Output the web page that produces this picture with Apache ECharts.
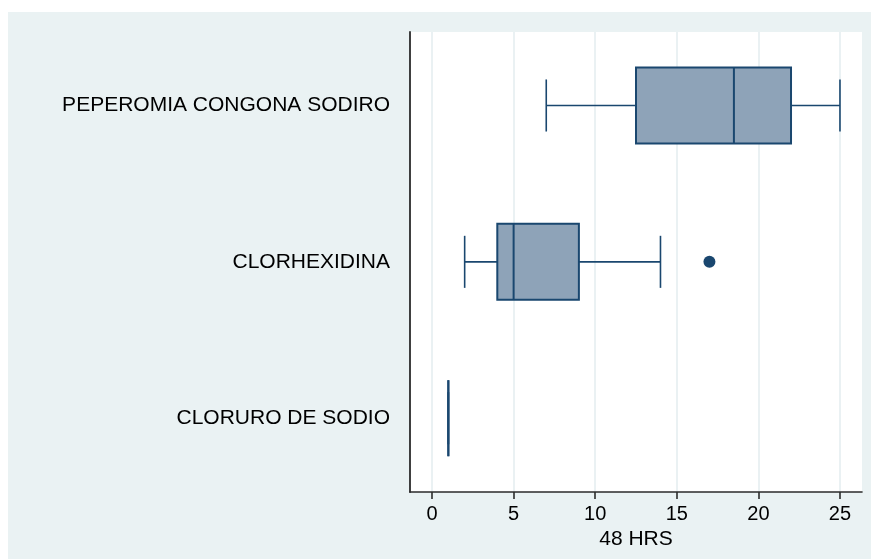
<!DOCTYPE html>
<html>
<head>
<meta charset="utf-8">
<script src="https://cdn.jsdelivr.net/npm/echarts@6/dist/echarts.min.js"></script>
<style>
  html, body { margin: 0; padding: 0; background: #ffffff; }
  #chart { width: 871px; height: 559px; }
</style>
</head>
<body>
<div id="chart"></div>
<script>
// Groups, bottom to top
const categories = ['CLORURO DE SODIO', 'CLORHEXIDINA', 'PEPEROMIA CONGONA SODIRO'];

// Five-number summaries for each group
const lowerWhisker = [1, 2, 7];
const q1 = [1, 4, 12.5];
const median = [1, 5, 18.5];
const q3 = [1, 9, 22];
const upperWhisker = [1, 14, 25];

// Outside values
const outlierValues = [17];
const outlierGroups = ['CLORHEXIDINA'];

const xTicks = [0, 5, 10, 15, 20, 25];
const axisTitle = '48 HRS';

const NAVY = '#1a476f';
const BOX_FILL = '#8ea3b8';
const BG = '#eaf2f3';
const FONT = '"Liberation Sans", Arial, sans-serif';

const boxData = categories.map((c, i) => [i, lowerWhisker[i], q1[i], median[i], q3[i], upperWhisker[i]]);
const outlierData = outlierValues.map((v, k) => [v, categories.indexOf(outlierGroups[k])]);

function renderBox(params, api) {
  const g = api.value(0);
  const lo = api.coord([api.value(1), g]);
  const b1 = api.coord([api.value(2), g]);
  const md = api.coord([api.value(3), g]);
  const b3 = api.coord([api.value(4), g]);
  const hi = api.coord([api.value(5), g]);
  const unit = Math.abs(api.size([0, 1])[1]);
  const boxH = unit * 0.486;
  const capH = unit * 0.333;
  const y = lo[1];
  const whisker = { stroke: NAVY, lineWidth: 1.6 };
  return {
    type: 'group',
    children: [
      { type: 'line', shape: { x1: lo[0], y1: y, x2: b1[0], y2: y }, style: whisker },
      { type: 'line', shape: { x1: b3[0], y1: y, x2: hi[0], y2: y }, style: whisker },
      { type: 'line', shape: { x1: lo[0], y1: y - capH / 2, x2: lo[0], y2: y + capH / 2 }, style: whisker },
      { type: 'line', shape: { x1: hi[0], y1: y - capH / 2, x2: hi[0], y2: y + capH / 2 }, style: whisker },
      {
        type: 'rect',
        shape: { x: b1[0], y: y - boxH / 2, width: b3[0] - b1[0], height: boxH },
        style: { fill: BOX_FILL, stroke: NAVY, lineWidth: 2 }
      },
      { type: 'line', shape: { x1: md[0], y1: y - boxH / 2, x2: md[0], y2: y + boxH / 2 }, style: { stroke: NAVY, lineWidth: 2 } }
    ]
  };
}

const chart = echarts.init(document.getElementById('chart'), null, { renderer: 'canvas' });
chart.setOption({
  animation: false,
  backgroundColor: '#ffffff',
  textStyle: { fontFamily: FONT },
  graphic: {
    elements: [{
      type: 'rect', z: -100, silent: true,
      shape: { x: 8, y: 12, width: 863, height: 547 },
      style: { fill: BG }
    }]
  },
  grid: {
    left: 410, right: 9, top: 32, bottom: 67,
    show: true, backgroundColor: '#ffffff', borderWidth: 0
  },
  xAxis: {
    type: 'value',
    min: -1.35, max: 26.35,
    name: axisTitle,
    nameLocation: 'middle',
    nameGap: 31,
    nameTextStyle: { fontSize: 21, color: '#000', fontFamily: FONT },
    axisLine: { show: true, onZero: false, lineStyle: { color: '#2b2b2b', width: 1.6 } },
    axisTick: { show: true, customValues: xTicks, length: 7, lineStyle: { color: '#2b2b2b', width: 1.6 } },
    axisLabel: { customValues: xTicks, margin: 12, fontSize: 20, color: '#000', fontFamily: FONT },
    splitLine: { show: true, lineStyle: { color: '#e3ecef', width: 1.5 } }
  },
  yAxis: {
    type: 'value',
    min: -0.472, max: 2.47,
    axisLine: { show: true, onZero: false, lineStyle: { color: '#2b2b2b', width: 1.8 } },
    axisTick: { show: false, customValues: [0, 1, 2] },
    axisLabel: {
      customValues: [0, 1, 2],
      margin: 20, fontSize: 21, color: '#000', fontFamily: FONT,
      formatter: v => categories[Math.round(v)]
    },
    splitLine: { show: false }
  },
  series: [
    {
      type: 'custom',
      renderItem: renderBox,
      data: boxData,
      encode: { x: [1, 2, 3, 4, 5], y: 0 },
      z: 3
    },
    {
      type: 'scatter',
      data: outlierData,
      symbol: 'circle',
      symbolSize: 12,
      itemStyle: { color: NAVY, opacity: 1 },
      z: 4
    }
  ]
});
</script>
</body>
</html>
